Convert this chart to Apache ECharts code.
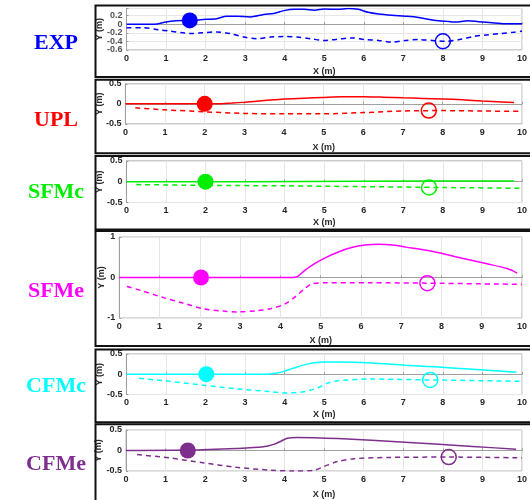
<!DOCTYPE html>
<html><head><meta charset="utf-8">
<script src="https://cdn.jsdelivr.net/npm/echarts@6/dist/echarts.min.js"></script>
<style>html,body{margin:0;padding:0;background:#fff}#c{width:530px;height:500px}</style>
</head><body><div id="c"></div>
<script>
// ---- data ----
const methodNames = ['EXP', 'UPL', 'SFMc', 'SFMe', 'CFMc', 'CFMe'];
const methodColors = ['#0000ff', '#ff0000', '#00ee00', '#ff00ff', '#00ffff', '#7e2f8e'];
const xTicks = [0, 1, 2, 3, 4, 5, 6, 7, 8, 9, 10];
const yTicksEXP = [-0.6, -0.4, -0.2, 0, 0.2];
const yTicksHalf = [-0.5, 0, 0.5];
const yTicksOne = [-1, 0, 1];

const expSolid = [[0,0],[0.7,0],[1.0,0.055],[1.25,0.08],[1.6,0.09],[1.93,0.11],[2.28,0.13],[2.53,0.19],[2.79,0.19],[3.13,0.17],[3.47,0.23],[3.72,0.25],[3.98,0.32],[4.24,0.35],[4.49,0.35],[4.75,0.33],[5.0,0.36],[5.35,0.35],[5.6,0.37],[5.86,0.35],[6.11,0.28],[6.37,0.24],[6.71,0.21],[7.05,0.19],[7.39,0.16],[7.73,0.1],[8.08,0.07],[8.3,0.05],[8.64,0.08],[8.9,0.06],[9.31,0.03],[9.61,0.01],[10,0.01]];
const expDashed = [[0,-0.08],[0.4,-0.08],[0.82,-0.13],[1.08,-0.16],[1.42,-0.2],[1.6,-0.22],[1.93,-0.2],[2.28,-0.18],[2.62,-0.22],[2.96,-0.3],[3.3,-0.34],[3.64,-0.3],[3.98,-0.29],[4.32,-0.3],[4.66,-0.34],[5.0,-0.38],[5.35,-0.35],[5.69,-0.32],[6.03,-0.36],[6.37,-0.38],[6.71,-0.42],[7.05,-0.38],[7.39,-0.36],[7.73,-0.38],[8.08,-0.4],[8.42,-0.36],[8.76,-0.29],[9.1,-0.25],[9.44,-0.22],[9.78,-0.19],[10,-0.16]];
const expStart = [1.6, 0.09];
const expEnd = [8.0, -0.4];

const uplSolid = [[0,0],[2.3,0],[2.7,0.02],[3,0.04],[3.5,0.08],[4,0.12],[4.5,0.14],[5,0.16],[5.5,0.175],[6,0.175],[6.5,0.165],[7,0.15],[7.5,0.135],[8,0.12],[8.5,0.1],[9,0.07],[9.5,0.045],[9.8,0.03]];
const uplDashed = [[0.25,-0.1],[1,-0.15],[2,-0.2],[3,-0.24],[4,-0.25],[5,-0.25],[6,-0.22],[7,-0.18],[8,-0.17],[9,-0.18],[10,-0.19]];
const uplStart = [2.0, 0.0];
const uplEnd = [7.65, -0.17];

const sfmcSolid = [[0,0],[3,0],[6,0.01],[9.8,0.015]];
const sfmcDashed = [[0.25,-0.07],[2,-0.09],[4,-0.1],[6,-0.12],[8,-0.14],[10,-0.16]];
const sfmcStart = [2.0, 0.0];
const sfmcEnd = [7.65, -0.14];

const sfmeSolid = [[0,0],[4.3,0],[4.43,0.03],[4.6,0.17],[4.85,0.34],[5.1,0.48],[5.44,0.63],[5.77,0.74],[6.1,0.8],[6.45,0.82],[6.78,0.8],[7.12,0.75],[7.79,0.64],[8.46,0.49],[9.13,0.34],[9.63,0.22],[9.88,0.11]];
const sfmeDashed = [[0.19,-0.22],[0.57,-0.33],[1.07,-0.49],[1.58,-0.63],[2.08,-0.77],[2.58,-0.83],[2.92,-0.85],[3.42,-0.82],[3.76,-0.77],[4.1,-0.66],[4.35,-0.49],[4.6,-0.28],[4.77,-0.16],[5.1,-0.13],[6.2,-0.13],[7.65,-0.14],[10,-0.17]];
const sfmeStart = [2.03, 0.0];
const sfmeEnd = [7.65, -0.14];

const cfmcSolid = [[0,0],[3.5,0],[3.8,0.03],[3.98,0.07],[4.23,0.15],[4.49,0.23],[4.75,0.28],[5.0,0.3],[5.34,0.3],[6.19,0.275],[7.05,0.22],[7.9,0.175],[8.75,0.12],[9.86,0.05]];
const cfmcDashed = [[0.32,-0.1],[1.08,-0.175],[1.93,-0.27],[2.79,-0.36],[3.64,-0.43],[4.06,-0.46],[4.49,-0.43],[4.83,-0.34],[5.09,-0.22],[5.34,-0.16],[6.19,-0.12],[7.63,-0.14],[10,-0.175]];
const cfmcStart = [2.02, 0.0];
const cfmcEnd = [7.68, -0.14];

const cfmeSolid = [[0,0],[1.5,0.01],[2.79,0.05],[3.47,0.09],[3.73,0.15],[3.9,0.22],[4.07,0.3],[4.32,0.32],[5.35,0.29],[7.05,0.2],[8.75,0.1],[9.85,0.03]];
const cfmeDashed = [[0.28,-0.1],[1.09,-0.18],[1.94,-0.3],[2.79,-0.41],[3.64,-0.48],[4.24,-0.5],[4.75,-0.48],[5.0,-0.39],[5.34,-0.27],[5.77,-0.2],[6.62,-0.17],[8.15,-0.16],[10,-0.18]];
const cfmeStart = [1.56, 0.0];
const cfmeEnd = [8.15, -0.16];

// ---- layout (pixels) ----
const layout = [
  {left:126.5, top:8.5, height:41.3, ymin:-0.6, ymax:0.37, step:0.2, ticks:yTicksEXP, yGap:22, xGap:17, frame:[5.5,77], labelY:43, seriesLabels:true},
  {left:125.4, top:83.8, height:40, ymin:-0.5, ymax:0.5, step:0.5, ticks:yTicksHalf, yGap:21, xGap:19.5, frame:[79.7,153.3], labelY:120},
  {left:126.4, top:160.8, height:41.7, ymin:-0.5, ymax:0.5, step:0.5, ticks:yTicksHalf, yGap:22, xGap:16, frame:[156,229.5], labelY:192.5},
  {left:119.3, top:237, height:81, ymin:-1, ymax:1, step:1, ticks:yTicksOne, yGap:13.5, xGap:18.5, frame:[231,346], labelY:291},
  {left:126.4, top:353.9, height:40.6, ymin:-0.5, ymax:0.5, step:0.5, ticks:yTicksHalf, yGap:22, xGap:16, frame:[349.5,422.3], labelY:386.5},
  {left:126, top:430, height:41, ymin:-0.5, ymax:0.5, step:0.5, ticks:yTicksHalf, yGap:22.5, xGap:19, frame:[424.3,506], labelY:464.5}
];
const rightEdge = 524;
const solids = [expSolid, uplSolid, sfmcSolid, sfmeSolid, cfmcSolid, cfmeSolid];
const dasheds = [expDashed, uplDashed, sfmcDashed, sfmeDashed, cfmcDashed, cfmeDashed];
const starts = [expStart, uplStart, sfmcStart, sfmeStart, cfmcStart, cfmeStart];
const ends = [expEnd, uplEnd, sfmcEnd, sfmeEnd, cfmcEnd, cfmeEnd];

const axisFont = {fontFamily:'Liberation Sans, Arial, sans-serif', fontWeight:'bold', fontSize:9, color:'#262626'};
const grids = [], xAxes = [], yAxes = [], series = [], graphics = [];
const fmt = v => String(+(+v).toFixed(2));

layout.forEach((L, i) => {
  grids.push({left:L.left, top:L.top, width:rightEdge - L.left, height:L.height, show:true, borderColor:'#b5b5b5', borderWidth:1, backgroundColor:'transparent'});
  xAxes.push({gridIndex:i, type:'value', min:0, max:10, interval:1,
    name:'X (m)', nameLocation:'middle', nameGap:L.xGap, nameMoveOverlap:false, nameTextStyle:axisFont,
    axisLabel:Object.assign({margin:4, showMinLabel:true, showMaxLabel:true, hideOverlap:false, formatter: v => xTicks.includes(v) ? String(v) : ''}, axisFont),
    axisTick:{inside:true, length:2, lineStyle:{color:'#999'}},
    axisLine:{lineStyle:{color:'#a0a0a0'}},
    splitLine:{show:true, lineStyle:{color:'#e6e6e6'}}});
  yAxes.push({gridIndex:i, type:'value', min:L.ymin, max:L.ymax, interval:L.step,
    name:'Y (m)', nameLocation:'middle', nameGap:L.yGap, nameRotate:90, nameMoveOverlap:false, nameTextStyle:axisFont,
    axisLabel:Object.assign({show:!L.seriesLabels, margin:4, showMinLabel:true, showMaxLabel:true, hideOverlap:false,
      formatter: v => L.ticks.some(t => Math.abs(t - v) < 1e-6) ? fmt(v) : ''}, axisFont),
    axisTick:{inside:true, length:2, lineStyle:{color:'#999'}},
    axisLine:{lineStyle:{color:'#a0a0a0'}},
    splitLine:{show:true, lineStyle:{color:'#e6e6e6'}}});
  const c = methodColors[i];
  series.push({type:'line', xAxisIndex:i, yAxisIndex:i, data:solids[i], symbol:'none', smooth:0.3, clip:true, lineStyle:{color:c, width:1.5}});
  series.push({type:'line', xAxisIndex:i, yAxisIndex:i, data:dasheds[i], symbol:'none', smooth:0.3, clip:true, lineStyle:{color:c, width:1.5, type:[5,4]}});
  series.push({type:'scatter', xAxisIndex:i, yAxisIndex:i, data:[starts[i]], symbol:'circle', symbolSize:16, clip:false, itemStyle:{color:c, opacity:1}});
  series.push({type:'scatter', xAxisIndex:i, yAxisIndex:i, data:[ends[i]], symbol:'circle', symbolSize:15, clip:false, itemStyle:{color:'rgba(0,0,0,0)', borderColor:c, borderWidth:1.5, opacity:1}});
  if (L.seriesLabels) {
    // tick labels drawn as series labels anchored on the axis scale (avoids auto-hiding of crowded labels)
    series.push({type:'scatter', xAxisIndex:i, yAxisIndex:i, data:L.ticks.map(t => [0, t]), symbolSize:0, clip:false, silent:true, z:10,
      itemStyle:{color:'rgba(0,0,0,0)'},
      label:Object.assign({show:true, position:'left', distance:4, formatter: p => fmt(p.value[1])}, axisFont),
      labelLayout:{hideOverlap:false}});
  }
  graphics.push({type:'rect', shape:{x:95.5, y:L.frame[0], width:450, height:L.frame[1] - L.frame[0]}, style:{fill:'none', stroke:'#111', lineWidth:2}, z:100});
  graphics.push({type:'text', x:56, y:L.labelY, style:{text:methodNames[i], fill:c, font:'bold 22px "Liberation Serif", "Times New Roman", serif', align:'center', verticalAlign:'middle'}, z:100});
});

const chart = echarts.init(document.getElementById('c'), null, {renderer:'canvas'});
chart.setOption({animation:false, backgroundColor:'#fff', grid:grids, xAxis:xAxes, yAxis:yAxes, series:series, graphic:graphics});
</script></body></html>
